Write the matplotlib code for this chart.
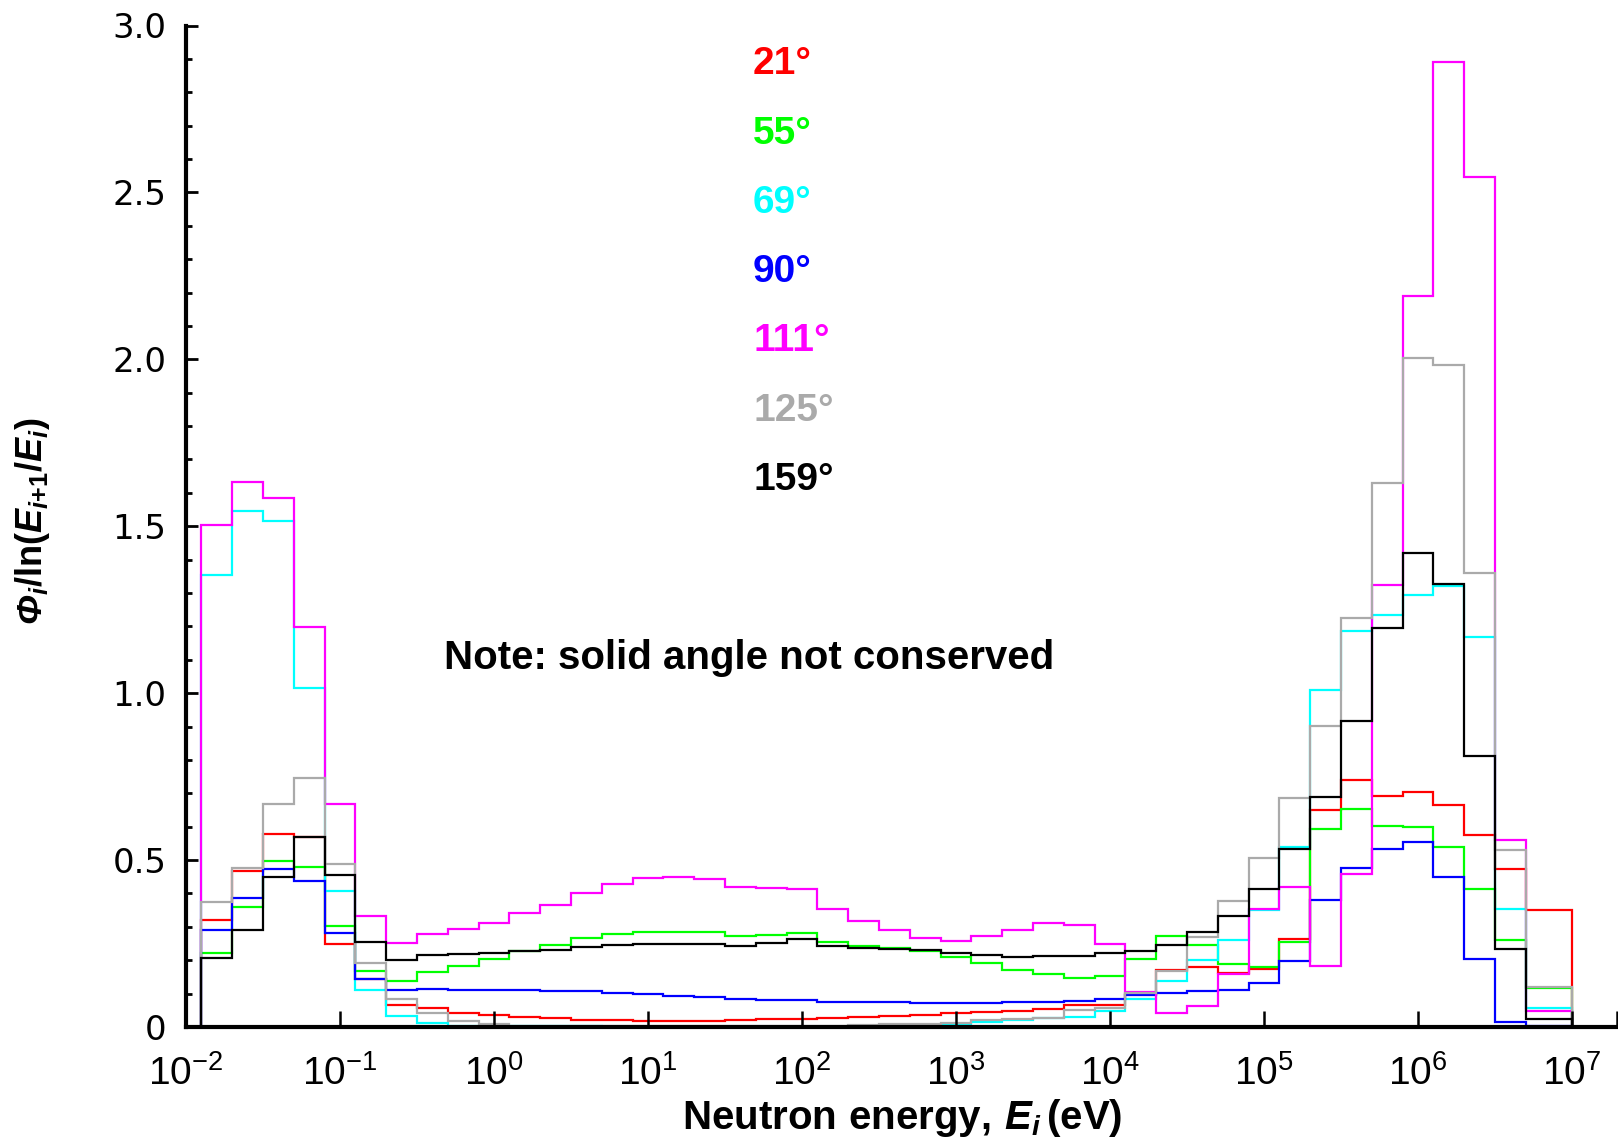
import numpy as np
import matplotlib
matplotlib.use("Agg")
import matplotlib.pyplot as plt
from matplotlib.ticker import FixedLocator, FuncFormatter, MultipleLocator
from matplotlib import font_manager

# ---------------- data ----------------
# log10 of the energy-bin edges (eV)
log_edges = [-1.9, -1.7, -1.5, -1.3, -1.1, -0.9, -0.7, -0.5, -0.3, -0.1,
             0.1, 0.3, 0.5, 0.7, 0.9, 1.1, 1.3, 1.5, 1.7, 1.9,
             2.1, 2.3, 2.5, 2.7, 2.9, 3.1, 3.3, 3.5, 3.7, 3.9,
             4.1, 4.3, 4.5, 4.7, 4.9, 5.1, 5.3, 5.5, 5.7, 5.9,
             6.1, 6.3, 6.5, 6.7, 7.0]

angles = ["21°", "55°", "69°", "90°", "111°", "125°", "159°"]

a21 = [0.320, 0.468, 0.577, 0.570, 0.250, 0.145, 0.067, 0.057, 0.043, 0.035,
       0.030, 0.026, 0.022, 0.020, 0.019, 0.019, 0.019, 0.020, 0.023, 0.025,
       0.028, 0.030, 0.033, 0.037, 0.041, 0.045, 0.049, 0.053, 0.065, 0.066,
       0.100, 0.172, 0.181, 0.162, 0.174, 0.265, 0.651, 0.739, 0.693, 0.703,
       0.666, 0.574, 0.472, 0.349]
a55 = [0.222, 0.360, 0.498, 0.478, 0.302, 0.167, 0.137, 0.165, 0.184, 0.203,
       0.228, 0.246, 0.268, 0.278, 0.285, 0.286, 0.285, 0.273, 0.275, 0.282,
       0.255, 0.243, 0.238, 0.228, 0.211, 0.192, 0.171, 0.159, 0.147, 0.152,
       0.204, 0.274, 0.245, 0.189, 0.179, 0.255, 0.594, 0.653, 0.603, 0.598,
       0.539, 0.414, 0.262, 0.117]
a69 = [1.353, 1.546, 1.515, 1.014, 0.407, 0.110, 0.034, 0.012, 0.004, 0.003,
       0.002, 0.002, 0.002, 0.001, 0.001, 0.001, 0.001, 0.001, 0.001, 0.001,
       0.001, 0.002, 0.004, 0.006, 0.008, 0.014, 0.020, 0.028, 0.030, 0.048,
       0.085, 0.139, 0.201, 0.260, 0.350, 0.540, 1.009, 1.186, 1.233, 1.293,
       1.320, 1.169, 0.352, 0.056]
a90 = [0.290, 0.387, 0.473, 0.438, 0.281, 0.144, 0.110, 0.114, 0.112, 0.110,
       0.110, 0.109, 0.107, 0.103, 0.099, 0.094, 0.089, 0.083, 0.082, 0.082,
       0.076, 0.074, 0.074, 0.073, 0.072, 0.072, 0.074, 0.076, 0.079, 0.085,
       0.095, 0.103, 0.107, 0.110, 0.132, 0.199, 0.380, 0.477, 0.534, 0.554,
       0.450, 0.204, 0.015, 0.002]
a111 = [1.503, 1.633, 1.585, 1.197, 0.669, 0.332, 0.252, 0.279, 0.293, 0.312,
        0.342, 0.365, 0.402, 0.427, 0.445, 0.450, 0.442, 0.419, 0.416, 0.414,
        0.352, 0.317, 0.290, 0.268, 0.258, 0.272, 0.292, 0.313, 0.307, 0.250,
        0.105, 0.043, 0.062, 0.160, 0.354, 0.419, 0.182, 0.457, 1.323, 2.190,
        2.890, 2.547, 0.561, 0.047]
a125 = [0.374, 0.477, 0.667, 0.747, 0.487, 0.191, 0.084, 0.042, 0.017, 0.009,
        0.004, 0.003, 0.002, 0.002, 0.002, 0.002, 0.002, 0.002, 0.002, 0.002,
        0.003, 0.007, 0.008, 0.010, 0.013, 0.020, 0.025, 0.028, 0.050, 0.058,
        0.101, 0.167, 0.269, 0.377, 0.506, 0.686, 0.903, 1.224, 1.630, 2.005,
        1.983, 1.360, 0.531, 0.121]
a159 = [0.206, 0.290, 0.449, 0.570, 0.454, 0.256, 0.200, 0.216, 0.218, 0.221,
        0.227, 0.231, 0.240, 0.245, 0.248, 0.248, 0.250, 0.244, 0.251, 0.263,
        0.243, 0.238, 0.235, 0.231, 0.223, 0.215, 0.211, 0.212, 0.214, 0.221,
        0.229, 0.245, 0.284, 0.332, 0.414, 0.534, 0.688, 0.916, 1.196, 1.421,
        1.326, 0.811, 0.234, 0.024]

series = [a21, a55, a69, a90, a111, a125, a159]
colors = ["#FF0000", "#00FF00", "#00FFFF", "#0000FF", "#FF00FF", "#AAAAAA", "#000000"]

x_major_exp = [-2, -1, 0, 1, 2, 3, 4, 5, 6, 7]
y_major = [0, 0.5, 1.0, 1.5, 2.0, 2.5, 3.0]

# ---------------- fonts ----------------
names = {f.name for f in font_manager.fontManager.ttflist}
narrow = "Liberation Sans Narrow" if "Liberation Sans Narrow" in names else "Liberation Sans"
plt.rcParams["mathtext.fontset"] = "custom"
plt.rcParams["mathtext.rm"] = narrow
plt.rcParams["mathtext.bf"] = narrow + ":bold"
plt.rcParams["mathtext.it"] = narrow + ":italic:bold"
plt.rcParams["mathtext.sf"] = narrow + ":italic:bold"

# ---------------- figure ----------------
W, H = 1618, 1142
fig = plt.figure(figsize=(W / 100, H / 100), dpi=100)
ax_l, ax_r, ax_t, ax_b = 186, 1617, 25.5, 1027
ax = fig.add_axes([ax_l / W, 1 - ax_b / H, (ax_r - ax_l) / W, (ax_b - ax_t) / H])

edges = 10.0 ** np.array(log_edges)
for vals, c in zip(series, colors):
    ax.stairs(vals, edges, baseline=0, color=c, lw=1.6)

ax.set_xscale("log")
ax.set_xlim(1e-2, 10 ** 7.292)
ax.set_ylim(0, 3.0)

for s in ["top", "right"]:
    ax.spines[s].set_visible(False)
for s in ["left", "bottom"]:
    ax.spines[s].set_linewidth(3.0)

ax.xaxis.set_major_locator(FixedLocator([10.0 ** e for e in x_major_exp]))
ax.xaxis.set_minor_locator(FixedLocator([10 ** 7.292]))
ax.xaxis.set_major_formatter(FuncFormatter(lambda v, p: r"$\mathregular{10^{%d}}$" % round(np.log10(v))))
ax.yaxis.set_major_locator(FixedLocator(y_major))
ax.yaxis.set_minor_locator(MultipleLocator(0.1))
ax.yaxis.set_major_formatter(FuncFormatter(lambda v, p: "0" if v == 0 else f"{v:.1f}"))

ax.tick_params(axis="x", which="both", direction="in", length=11.5, width=1.8,
               labelsize=28, pad=20, labelfontfamily=narrow)
ax.tick_params(axis="y", which="major", direction="in", length=8.5, width=2.0,
               labelsize=24.5, pad=14, labelfontfamily="DejaVu Sans")
ax.tick_params(axis="y", which="minor", direction="in", length=4.3, width=2.0)

ax.set_xlabel(r"$\mathbf{Neutron\ energy,}\,E_{i}\,\mathbf{(eV)}$", fontsize=29)
ax.xaxis.set_label_coords((902 - ax_l) / (ax_r - ax_l), (ax_b - 1118) / (ax_b - ax_t))
ax.xaxis.label.set_verticalalignment("center")
ax.set_ylabel(r"$\mathsf{\Phi}_{i}\mathbf{/ln(}E_{i\mathbf{+1}}\mathbf{/}E_{i}\mathbf{)}$", fontsize=26)
ax.yaxis.set_label_coords((33 - ax_l) / (ax_r - ax_l), (ax_b - 521) / (ax_b - ax_t))
ax.yaxis.label.set_verticalalignment("center")

# angle labels
def px_to_axes(px, py):
    return (px - ax_l) / (ax_r - ax_l), (ax_b - py) / (ax_b - ax_t)

label_y_px = [64, 134, 203, 272, 341, 411, 480]
for txt, c, py in zip(angles, colors, label_y_px):
    xa, ya = px_to_axes(753, py)
    ax.text(xa, ya, txt, color=c, transform=ax.transAxes, fontsize=28,
            fontweight="bold", family="Liberation Sans", ha="left", va="center")

xa, ya = px_to_axes(444, 658)
ax.text(xa, ya, "Note: solid angle not conserved", transform=ax.transAxes,
        fontsize=29, fontweight="bold", family="Liberation Sans", ha="left", va="center")

fig.savefig("out.png", dpi=100)
